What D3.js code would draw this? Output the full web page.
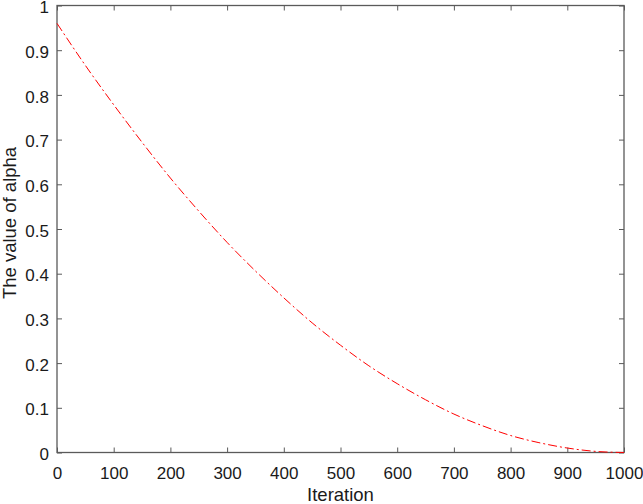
<!DOCTYPE html>
<html>
<head>
<script src="https://d3js.org/d3.v7.min.js"></script>
<style>
  body { margin: 0; background: #fff; }
  text { font-family: "Liberation Sans", Arial, sans-serif; }
</style>
</head>
<body>
<svg width="643" height="504"></svg>
<script>
// values
const iterations = [0, 50, 100, 150, 200, 250, 300, 350, 400, 450, 500,
                    550, 600, 650, 700, 750, 800, 850, 900, 950, 1000];
const alphaValues = [0.96, 0.866, 0.778, 0.694, 0.614, 0.54, 0.47, 0.406, 0.346, 0.29, 0.24,
                     0.194, 0.154, 0.118, 0.086, 0.06, 0.038, 0.022, 0.01, 0.0025, 0];
const xTicks = [0, 100, 200, 300, 400, 500, 600, 700, 800, 900, 1000];
const yTicks = [0, 0.1, 0.2, 0.3, 0.4, 0.5, 0.6, 0.7, 0.8, 0.9, 1];

const svg = d3.select('svg');
const mLeft = 57, mRight = 624, mTop = 5.5, mBottom = 452.5;
const axisColor = '#5a5a5a';
const textColor = '#1a1a1a';

const x = d3.scaleLinear().domain([0, 1000]).range([mLeft, mRight]);
const y = d3.scaleLinear().domain([0, 1]).range([mBottom, mTop]);

function styleAxis(g) {
  g.select('.domain').remove();
  g.selectAll('.tick line').attr('stroke', axisColor);
  g.selectAll('.tick text').attr('fill', textColor).attr('font-size', 17);
}

// bottom + left with labels, ticks pointing inwards
svg.append('g').attr('transform', `translate(0,${mBottom})`)
  .call(d3.axisBottom(x).tickValues(xTicks).tickSizeInner(-5).tickSizeOuter(0).tickPadding(14).tickFormat(d3.format('d')))
  .call(styleAxis);
svg.append('g').attr('transform', `translate(${mLeft},0)`)
  .call(d3.axisLeft(y).tickValues(yTicks).tickSizeInner(-5).tickSizeOuter(0).tickPadding(8).tickFormat(d => d === 0 || d === 1 ? d : d3.format('.1f')(d)))
  .call(styleAxis)
  .call(g => g.selectAll('.tick text').attr('dy', '0.42em'));
// top + right ticks only
svg.append('g').attr('transform', `translate(0,${mTop})`)
  .call(d3.axisTop(x).tickValues(xTicks).tickSizeInner(-5).tickSizeOuter(0).tickFormat(''))
  .call(styleAxis);
svg.append('g').attr('transform', `translate(${mRight},0)`)
  .call(d3.axisRight(y).tickValues(yTicks).tickSizeInner(-5).tickSizeOuter(0).tickFormat(''))
  .call(styleAxis);

// box
svg.append('rect')
  .attr('x', mLeft).attr('y', mTop)
  .attr('width', mRight - mLeft).attr('height', mBottom - mTop)
  .attr('fill', 'none').attr('stroke', axisColor).attr('stroke-width', 1.3);

const line = d3.line()
  .x((d, i) => x(iterations[i]))
  .y(d => y(d))
  .curve(d3.curveMonotoneX);

svg.append('path')
  .datum(alphaValues)
  .attr('d', line)
  .attr('fill', 'none')
  .attr('stroke', '#ff0000')
  .attr('stroke-width', 1)
  .attr('stroke-dasharray', '9,3,2,3');

svg.append('text')
  .attr('x', (mLeft + mRight) / 2).attr('y', 501)
  .attr('text-anchor', 'middle').attr('font-size', 18.5).attr('fill', textColor)
  .text('Iteration');

svg.append('text')
  .attr('transform', `translate(16,223) rotate(-90)`)
  .attr('text-anchor', 'middle').attr('font-size', 18.5).attr('fill', textColor)
  .text('The value of alpha');
</script>
</body>
</html>
